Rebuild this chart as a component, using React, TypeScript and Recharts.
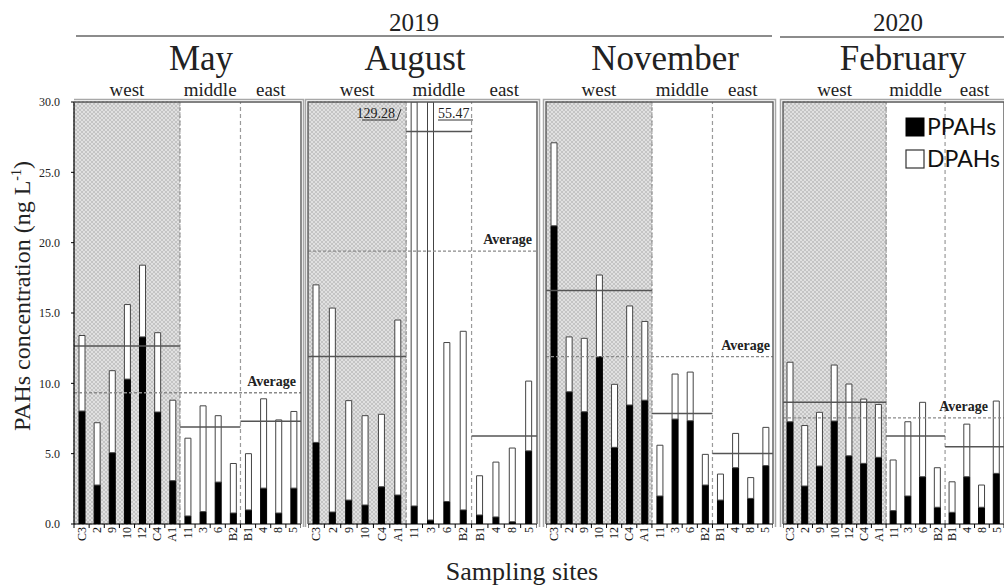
import React from 'react';
import { BarChart, Bar, XAxis, YAxis, ReferenceArea, ReferenceLine } from 'recharts';

// ---------- data ----------
const sites = ['C3', '2', '9', '10', '12', 'C4', 'A1', '11', '3', '6', 'B2', 'B1', '4', '8', '5'];
const sitesAugust = ['C3', '2', '9', '10', 'C4', 'A1', '11', '3', '6', 'B2', 'B1', '4', '8', '5'];

const mayPPAHs = [8.03, 2.77, 5.07, 10.3, 13.3, 7.96, 3.08, 0.57, 0.88, 2.98, 0.78, 1.0, 2.55, 0.78, 2.55];
const mayDPAHs = [5.37, 4.43, 5.83, 5.3, 5.1, 5.64, 5.72, 5.53, 7.52, 4.72, 3.52, 4.0, 6.35, 6.62, 5.45];

const augPPAHs = [5.8, 0.85, 1.7, 1.35, 2.65, 2.06, 1.28, 0.28, 1.6, 1.0, 0.64, 0.5, 0.16, 5.2];
const augDPAHs = [11.2, 14.5, 7.07, 6.35, 5.15, 12.44, 128.0, 55.19, 11.3, 12.7, 2.79, 3.9, 5.24, 4.96];

const novPPAHs = [21.2, 9.4, 7.98, 11.9, 5.45, 8.46, 8.8, 1.99, 7.46, 7.34, 2.77, 1.7, 4.0, 1.82, 4.15];
const novDPAHs = [5.9, 3.9, 5.22, 5.8, 4.48, 7.04, 5.6, 3.61, 3.2, 3.46, 2.18, 1.85, 2.44, 1.48, 2.72];

const febPPAHs = [7.27, 2.7, 4.12, 7.32, 4.85, 4.31, 4.74, 0.95, 1.99, 3.36, 1.19, 0.83, 3.36, 1.19, 3.6];
const febDPAHs = [4.23, 4.3, 3.82, 3.98, 5.1, 4.57, 3.76, 3.6, 5.28, 5.29, 2.81, 2.17, 3.74, 1.58, 5.14];

const regionNames = ['west', 'middle', 'east'];
const mayRegions = [7, 4, 4];
const augRegions = [6, 4, 4];
const novRegions = [7, 4, 4];
const febRegions = [7, 4, 4];

const mayRegionAvg = [12.65, 6.9, 7.3];
const augRegionAvg = [11.9, 27.9, 6.25];
const novRegionAvg = [16.6, 7.86, 5.02];
const febRegionAvg = [8.65, 6.25, 5.5];
const overallAvg = [9.33, 19.4, 11.9, 7.55];

const months = ['May', 'August', 'November', 'February'];
const years = ['2019', '2020'];
const yTicks = [0, 5, 10, 15, 20, 25, 30];

// ---------- layout ----------
const W = 1004;
const H = 587;
const PLOT_TOP = 102;
const PLOT_BOTTOM = 524;
const XAXIS_H = 40;
const SERIF = '"Liberation Serif", "DejaVu Serif", serif';

type Cfg = {
  key: string;
  sites: string[];
  ppahs: number[];
  dpahs: number[];
  regions: number[];
  regionAvg: number[];
  overall: number;
  left: number;
  width: number;
  avgDx: number;
  monthX: number;
};

const panels: Cfg[] = [
  { key: 'may', sites, ppahs: mayPPAHs, dpahs: mayDPAHs, regions: mayRegions, regionAvg: mayRegionAvg, overall: overallAvg[0], left: 74, width: 227, avgDx: 2, monthX: 201 },
  { key: 'aug', sites: sitesAugust, ppahs: augPPAHs, dpahs: augDPAHs, regions: augRegions, regionAvg: augRegionAvg, overall: overallAvg[1], left: 308, width: 229, avgDx: 2, monthX: 415 },
  { key: 'nov', sites, ppahs: novPPAHs, dpahs: novDPAHs, regions: novRegions, regionAvg: novRegionAvg, overall: overallAvg[2], left: 546, width: 227, avgDx: 4, monthX: 665 },
  { key: 'feb', sites, ppahs: febPPAHs, dpahs: febDPAHs, regions: febRegions, regionAvg: febRegionAvg, overall: overallAvg[3], left: 783, width: 221, avgDx: -9, monthX: 903 },
];

const SiteTick = (props: any) => {
  const { x, y, payload, index, bw, count } = props;
  return (
    <g>
      <line x1={x - bw / 2} x2={x - bw / 2} y1={y - 3} y2={y + 1} stroke="#000" strokeWidth={1} />
      {index === count - 1 && (
        <line x1={x + bw / 2} x2={x + bw / 2} y1={y - 3} y2={y + 1} stroke="#000" strokeWidth={1} />
      )}
      <text
        transform={`translate(${x + 4},${y}) rotate(-90)`}
        textAnchor="end"
        fontSize={12}
        fontFamily={SERIF}
        fill="#111"
      >
        {payload.value}
      </text>
    </g>
  );
};

function Panel({ cfg, first }: { cfg: Cfg; first: boolean }) {
  const data = cfg.sites.map((s, i) => ({ site: s, pos: i + 0.5, PPAHs: cfg.ppahs[i], DPAHs: cfg.dpahs[i] }));
  const n = cfg.sites.length;
  const bw = cfg.width / n;
  const yW = first ? 40 : 0;
  const bounds = [0];
  cfg.regions.forEach((c) => bounds.push(bounds[bounds.length - 1] + c));
  const hatchId = `hatch-${cfg.key}`;
  return (
    <div style={{ position: 'absolute', left: cfg.left - yW, top: 0 }}>
      <BarChart
        width={cfg.width + yW}
        height={H}
        data={data}
        margin={{ top: PLOT_TOP, right: 0, bottom: H - PLOT_BOTTOM - XAXIS_H, left: 0 }}
        barSize={6}
      >
        <defs>
          <pattern id={hatchId} width="4" height="4" patternUnits="userSpaceOnUse">
            <rect width="4" height="4" fill="#e0e0e0" />
            <path d="M0,0 L4,4 M4,0 L0,4" stroke="#bdbdbd" strokeWidth="0.8" />
          </pattern>
        </defs>
        <XAxis
          xAxisId="cat"
          dataKey="site"
          height={XAXIS_H}
          interval={0}
          tickLine={false}
          tickSize={0}
          tickMargin={3}
          axisLine={{ stroke: '#000', strokeWidth: 1.2 }}
          tick={<SiteTick bw={bw} count={n} />}
        />
        <XAxis
          xAxisId="num"
          dataKey="pos"
          type="number"
          domain={[0, n]}
          ticks={[0, n]}
          hide
          allowDataOverflow
        />
        <YAxis
          yAxisId="y"
          domain={[0, 30]}
          ticks={yTicks}
          allowDataOverflow
          hide={!first}
          width={yW}
          tickSize={3}
          tickMargin={11}
          tickFormatter={(v: number) => v.toFixed(1)}
          tick={{ fontSize: 12, fontFamily: SERIF, fill: '#222' }}
          axisLine={{ stroke: '#000', strokeWidth: 1.2 }}
          tickLine={{ stroke: '#000' }}
        />
        <ReferenceArea
          xAxisId="num"
          yAxisId="y"
          x1={0}
          x2={bounds[1]}
          y1={0}
          y2={30}
          fill={`url(#${hatchId})`}
          fillOpacity={1}
          stroke="#9a9a9a"
          strokeDasharray="2 2"
        />
        {[bounds[1], bounds[2]].map((b) => (
          <ReferenceLine
            key={`sep-${b}`}
            xAxisId="num"
            yAxisId="y"
            x={b}
            stroke="#9a9a9a"
            strokeWidth={1.2}
            strokeDasharray="4 3"
          />
        ))}
        <Bar xAxisId="cat" yAxisId="y" dataKey="PPAHs" stackId="a" fill="#000" stroke="#000" strokeWidth={1} isAnimationActive={false} />
        <Bar xAxisId="cat" yAxisId="y" dataKey="DPAHs" stackId="a" fill="#fff" stroke="#444" strokeWidth={1} isAnimationActive={false} />
        <ReferenceLine
          xAxisId="num"
          yAxisId="y"
          y={cfg.overall}
          stroke="#8a8a8a"
          strokeWidth={1.3}
          strokeDasharray="3 2"
          label={{
            value: 'Average',
            position: 'insideBottomRight',
            offset: 7,
            dx: cfg.avgDx,
            fontSize: 14,
            fontWeight: 'bold',
            fontFamily: SERIF,
            fill: '#222',
          }}
        />
        {cfg.regionAvg.map((v, i) => (
          <ReferenceLine
            key={`avg-${i}`}
            xAxisId="num"
            yAxisId="y"
            segment={[
              { x: bounds[i], y: v },
              { x: bounds[i + 1], y: v },
            ]}
            stroke="#555"
            strokeWidth={1.5}
          />
        ))}
      </BarChart>
    </div>
  );
}

function Overlay() {
  const frames = panels.map((p, i) => {
    const L = p.left;
    const R = p.left + p.width;
    const inner = i === 0
      ? `M${L},${PLOT_TOP} L${R},${PLOT_TOP} L${R},${PLOT_BOTTOM}`
      : `M${L},${PLOT_BOTTOM} L${L},${PLOT_TOP} L${R},${PLOT_TOP} L${R},${PLOT_BOTTOM}`;
    const o = 2.5;
    const outer = i === 0
      ? `M${L},${PLOT_TOP - o} L${R + o},${PLOT_TOP - o} L${R + o},${PLOT_BOTTOM + 3}`
      : `M${L - o},${PLOT_BOTTOM + 3} L${L - o},${PLOT_TOP - o} L${R + o},${PLOT_TOP - o} L${R + o},${PLOT_BOTTOM + 3}`;
    return (
      <g key={`frame-${p.key}`}>
        <path d={outer} fill="none" stroke="#a8a8a8" strokeWidth={1.5} />
        <path d={inner} fill="none" stroke="#5a5a5a" strokeWidth={1.4} />
      </g>
    );
  });

  const regionLabels = panels.flatMap((p) => {
    const n = p.sites.length;
    const bw = p.width / n;
    let acc = 0;
    return p.regions.map((c, j) => {
      const cx = p.left + (acc + c / 2) * bw;
      acc += c;
      return (
        <text key={`${p.key}-r${j}`} x={cx} y={96} textAnchor="middle" fontSize={19} fontFamily={SERIF} fill="#222">
          {regionNames[j]}
        </text>
      );
    });
  });

  return (
    <svg width={W} height={H} style={{ position: 'absolute', left: 0, top: 0, pointerEvents: 'none' }}>
      {frames}
      <text x={414} y={31} textAnchor="middle" fontSize={25} fontFamily={SERIF} fill="#222">{years[0]}</text>
      <line x1={76} x2={772} y1={36} y2={36} stroke="#666" strokeWidth={1.5} />
      <text x={898} y={31} textAnchor="middle" fontSize={25} fontFamily={SERIF} fill="#222">{years[1]}</text>
      <line x1={780} x2={1004} y1={37} y2={37} stroke="#666" strokeWidth={1.5} />
      {panels.map((p, i) => (
        <text key={`m-${p.key}`} x={p.monthX} y={70} textAnchor="middle" fontSize={35} fontFamily={SERIF} fill="#222">
          {months[i]}
        </text>
      ))}
      {regionLabels}
      <text x={395} y={118} textAnchor="end" fontSize={14} fontFamily={SERIF} fill="#222">129.28</text>
      <line x1={362} x2={397} y1={120} y2={120} stroke="#333" strokeWidth={1} />
      <line x1={397} x2={401} y1={120} y2={109} stroke="#333" strokeWidth={1} />
      <text x={438} y={118} textAnchor="start" fontSize={14} fontFamily={SERIF} fill="#222">55.47</text>
      <line x1={438} x2={473} y1={120} y2={120} stroke="#333" strokeWidth={1} />
      {/* legend */}
      <rect x={906} y={118} width={18} height={18} fill="#000" stroke="#000" />
      <text x={927} y={135} fontSize={23} fontFamily="Lato, 'Open Sans', sans-serif" fill="#111">PPAHs</text>
      <rect x={906} y={150} width={18} height={18} fill="#fff" stroke="#333" strokeWidth={1.2} />
      <text x={927} y={167} fontSize={23} fontFamily="Lato, 'Open Sans', sans-serif" fill="#111">DPAHs</text>
      {/* axis titles */}
      <text transform="translate(30,296) rotate(-90)" textAnchor="middle" fontSize={24} fontFamily={SERIF} fill="#222">
        PAHs concentration (ng L
        <tspan fontSize={14} dy={-9}>-1</tspan>
        <tspan dy={9}>)</tspan>
      </text>
      <text x={522} y={580} textAnchor="middle" fontSize={26} fontFamily={SERIF} fill="#222">Sampling sites</text>
    </svg>
  );
}

export default function App() {
  return (
    <div style={{ position: 'absolute', left: 0, top: 0, width: W, height: H, overflow: 'hidden', background: '#fff' }}>
      {panels.map((p, i) => (
        <Panel key={p.key} cfg={p} first={i === 0} />
      ))}
      <Overlay />
    </div>
  );
}
